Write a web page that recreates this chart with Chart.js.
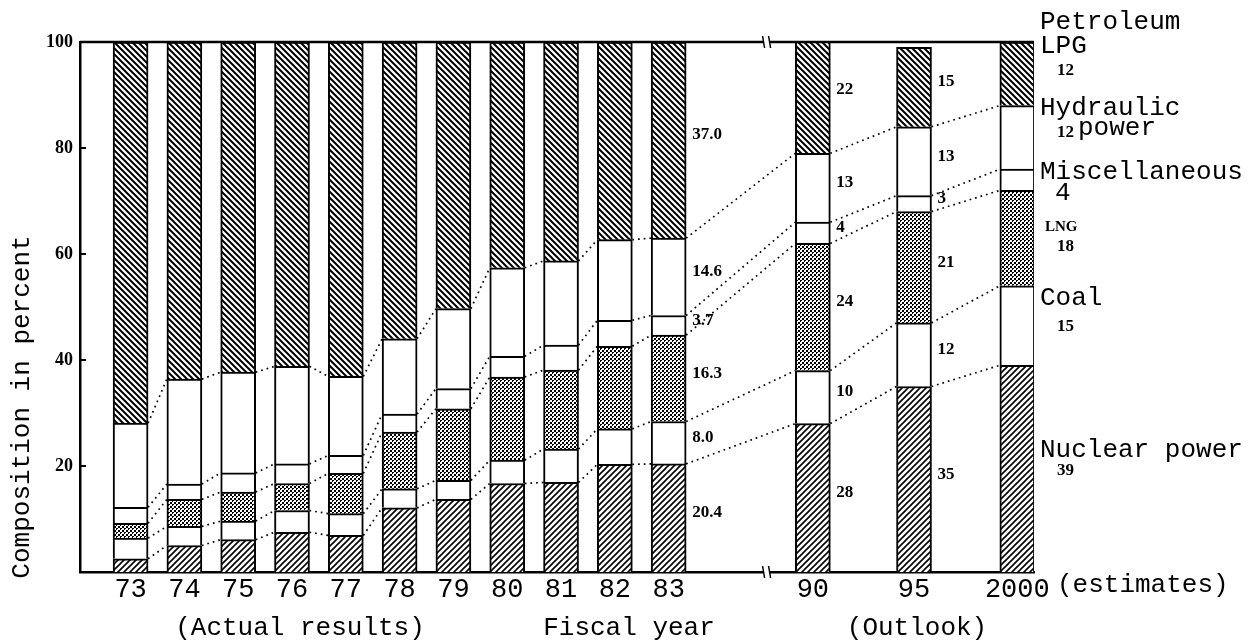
<!DOCTYPE html>
<html>
<head>
<meta charset="utf-8">
<title>Power generation mix</title>
<script src="https://cdn.jsdelivr.net/npm/chart.js@4.4.1/dist/chart.umd.min.js"></script>
<style>
  html, body { margin: 0; padding: 0; background: #fff; }
  #wrap { width: 1252px; height: 644px; position: relative; }
</style>
</head>
<body>
<div id="wrap"><canvas id="mixChart"></canvas></div>
<script>
// Fiscal years (73-83 actual results, 90-2000 outlook)
const years = ['73', '74', '75', '76', '77', '78', '79', '80', '81', '82', '83', '90', '95', '2000'];
// where each year sits on the (broken) x axis, in bar slots
const slotPos = [0, 1, 2, 3, 4, 5, 6, 7, 8, 9, 10, 12.68, 14.56, 16.48];

// Composition in percent, bottom of the bar to the top
const nuclear   = [2.5, 5.0, 6.1, 7.5, 6.9, 12.1, 13.7, 16.7, 16.9, 20.3, 20.4, 28, 35, 39];
const coal      = [3.9, 3.6, 3.5, 4.1, 4.1, 3.6, 3.6, 4.4, 6.3, 6.7, 8.0, 10, 12, 15];
const lng       = [2.8, 5.1, 5.5, 5.1, 7.6, 10.7, 13.5, 15.7, 14.9, 15.6, 16.3, 24, 21, 18];
const misc      = [3.0, 2.9, 3.6, 3.7, 3.4, 3.4, 3.8, 3.9, 4.7, 4.9, 3.7, 4, 3, 4];
const hydro     = [15.9, 19.8, 19.0, 18.4, 14.9, 14.2, 15.1, 16.7, 15.9, 15.2, 14.6, 13, 13, 12];
const petroleum = [71.9, 63.6, 62.3, 61.2, 63.1, 56.0, 50.3, 42.6, 41.3, 37.3, 37.0, 22, 15, 12];

const yTicks = [20, 40, 60, 80, 100];
const labelledBars = [10, 11, 12];   // bars that get numbers at their side

const MONO = '"Liberation Mono", "DejaVu Sans Mono", monospace';
const SERIF = '"Liberation Serif", "DejaVu Serif", serif';

// --- fill patterns ---
function hatch(dir, size, lw) {
  const c = document.createElement('canvas');
  c.width = size; c.height = size;
  const g = c.getContext('2d');
  g.fillStyle = '#fff';
  g.fillRect(0, 0, size, size);
  g.strokeStyle = '#000';
  g.lineWidth = lw;
  g.beginPath();
  if (dir === 'back') {
    g.moveTo(-2, -2); g.lineTo(size + 2, size + 2);
    g.moveTo(-2, size - 2); g.lineTo(2, size + 2);
    g.moveTo(size - 2, -2); g.lineTo(size + 2, 2);
  } else {
    g.moveTo(-2, size + 2); g.lineTo(size + 2, -2);
    g.moveTo(-2, 2); g.lineTo(2, -2);
    g.moveTo(size - 2, size + 2); g.lineTo(size + 2, size - 2);
  }
  g.stroke();
  return g.createPattern(c, 'repeat');
}

// dotted grey screen used for LNG
function stipple() {
  const c = document.createElement('canvas');
  c.width = 4; c.height = 4;
  const g = c.getContext('2d');
  g.fillStyle = '#fff';
  g.fillRect(0, 0, 4, 4);
  g.fillStyle = '#000';
  g.fillRect(0, 0, 2, 2);
  g.fillRect(2, 2, 2, 2);
  g.fillStyle = '#fff';
  g.fillRect(1, 1, 1, 1);
  return g.createPattern(c, 'repeat');
}

const series = [
  { label: 'Nuclear power', values: nuclear, fill: hatch('fwd', 6, 1.6) },
  { label: 'Coal', values: coal, fill: '#fff' },
  { label: 'LNG', values: lng, fill: stipple() },
  { label: 'Miscellaneous', values: misc, fill: '#fff' },
  { label: 'Hydraulic power', values: hydro, fill: '#fff' },
  { label: 'Petroleum LPG', values: petroleum, fill: hatch('back', 6, 2) }
];

// draws the dotted links, numbers, axis frame and all the loose text
const decor = {
  id: 'decor',
  afterDatasetsDraw(chart) {
    const ctx = chart.ctx;
    const area = chart.chartArea;
    const xs = chart.scales.x;
    const ys = chart.scales.y;
    ctx.save();

    // dotted lines joining the same boundary on neighbouring bars
    ctx.strokeStyle = '#000';
    ctx.lineWidth = 1.7;
    ctx.setLineDash([1.7, 4]);
    for (let d = 0; d < series.length - 1; d++) {
      const bars = chart.getDatasetMeta(d).data;
      for (let i = 0; i < bars.length - 1; i++) {
        const a = bars[i], b = bars[i + 1];
        ctx.beginPath();
        ctx.moveTo(a.x + a.width / 2, a.y);
        ctx.lineTo(b.x - b.width / 2, b.y);
        ctx.stroke();
      }
    }
    ctx.setLineDash([]);

    // numbers beside the 83 / 90 / 95 bars
    ctx.fillStyle = '#000';
    ctx.font = 'bold 17px ' + SERIF;
    ctx.textAlign = 'left';
    ctx.textBaseline = 'middle';
    labelledBars.forEach(i => {
      series.forEach((s, d) => {
        const el = chart.getDatasetMeta(d).data[i];
        const v = s.values[i];
        const txt = i === 10 ? v.toFixed(1) : String(v);
        ctx.fillText(txt, el.x + el.width / 2 + 6, (el.y + el.base) / 2 - 5);
      });
    });

    // frame: top line, inward y ticks, axis breaks
    ctx.lineWidth = 2.5;
    ctx.beginPath();
    ctx.moveTo(area.left, ys.getPixelForValue(100));
    ctx.lineTo(area.right, ys.getPixelForValue(100));
    ctx.stroke();
    ctx.lineWidth = 2;
    yTicks.forEach(v => {
      const y = ys.getPixelForValue(v);
      ctx.beginPath();
      ctx.moveTo(area.left, y);
      ctx.lineTo(area.left + 6, y);
      ctx.stroke();
    });
    const bx = xs.getPixelForValue(11.82);
    [area.top, area.bottom].forEach(y => {
      ctx.fillStyle = '#fff';
      ctx.fillRect(bx - 3, y - 3, 6, 6);
      ctx.lineWidth = 1.5;
      ctx.beginPath();
      ctx.moveTo(bx - 4, y - 6); ctx.lineTo(bx - 2, y + 6);
      ctx.moveTo(bx + 2, y - 6); ctx.lineTo(bx + 4, y + 6);
      ctx.stroke();
    });

    // axis titles and captions
    ctx.fillStyle = '#000';
    ctx.font = '26px ' + MONO;
    ctx.textAlign = 'center';
    ctx.textBaseline = 'middle';
    ctx.save();
    ctx.translate(22, 407);
    ctx.rotate(-Math.PI / 2);
    ctx.fillText('Composition in percent', 0, 0);
    ctx.restore();
    ctx.fillText('(Actual results)', 300, 628);
    ctx.fillText('Fiscal year', 629, 628);
    ctx.fillText('(Outlook)', 917, 628);
    ctx.textAlign = 'left';
    ctx.fillText('(estimates)', 1057, 585);

    // series names down the right side, with the 2000 figures
    const last = years.length - 1;
    const names = [
      ['Petroleum', 1040, 22], ['LPG', 1040, 46], ['Hydraulic', 1040, 108],
      ['power', 1078, 128], ['Miscellaneous', 1040, 172], ['Coal', 1040, 298],
      ['Nuclear power', 1040, 450]
    ];
    names.forEach(n => ctx.fillText(n[0], n[1], n[2]));
    ctx.fillText(String(misc[last]), 1055, 193);
    ctx.font = 'bold 15px ' + SERIF;
    ctx.fillText('LNG', 1045, 227);
    ctx.font = 'bold 17px ' + SERIF;
    ctx.fillText(String(petroleum[last]), 1057, 71);
    ctx.fillText(String(hydro[last]), 1057, 133);
    ctx.fillText(String(lng[last]), 1057, 247);
    ctx.fillText(String(coal[last]), 1057, 327);
    ctx.fillText(String(nuclear[last]), 1057, 471);

    ctx.restore();
  }
};

const ctx = document.getElementById('mixChart').getContext('2d');
new Chart(ctx, {
  type: 'bar',
  data: {
    datasets: series.map(s => ({
      label: s.label,
      data: s.values.map((v, i) => ({ x: slotPos[i], y: v })),
      backgroundColor: s.fill,
      borderColor: '#000',
      borderWidth: 2,
      barThickness: 35
    }))
  },
  options: {
    responsive: true,
    maintainAspectRatio: false,
    animation: false,
    layout: { padding: { top: 42, right: 218, left: 0, bottom: 0 } },
    plugins: {
      legend: { display: false },
      tooltip: { enabled: false }
    },
    scales: {
      x: {
        type: 'linear',
        stacked: true,
        min: -0.94,
        max: 16.79,
        offset: false,
        grid: { display: false, drawTicks: false },
        border: { display: true, color: '#000', width: 2.5 },
        afterBuildTicks: scale => { scale.ticks = slotPos.map(v => ({ value: v })); },
        afterFit: scale => { scale.height = 72; },
        ticks: {
          autoSkip: false,
          maxRotation: 0,
          padding: 2,
          color: '#000',
          font: { family: MONO, size: 27 },
          callback: (val, idx) => years[idx]
        }
      },
      y: {
        stacked: true,
        min: 0,
        max: 100,
        grid: { display: false, drawTicks: false },
        border: { display: true, color: '#000', width: 2.5 },
        afterFit: scale => { scale.width = 80; },
        ticks: {
          stepSize: 20,
          padding: 7,
          color: '#000',
          font: { family: SERIF, size: 18, weight: 'bold' },
          callback: v => (v === 0 ? '' : v)
        }
      }
    }
  },
  plugins: [decor]
});
</script>
</body>
</html>
